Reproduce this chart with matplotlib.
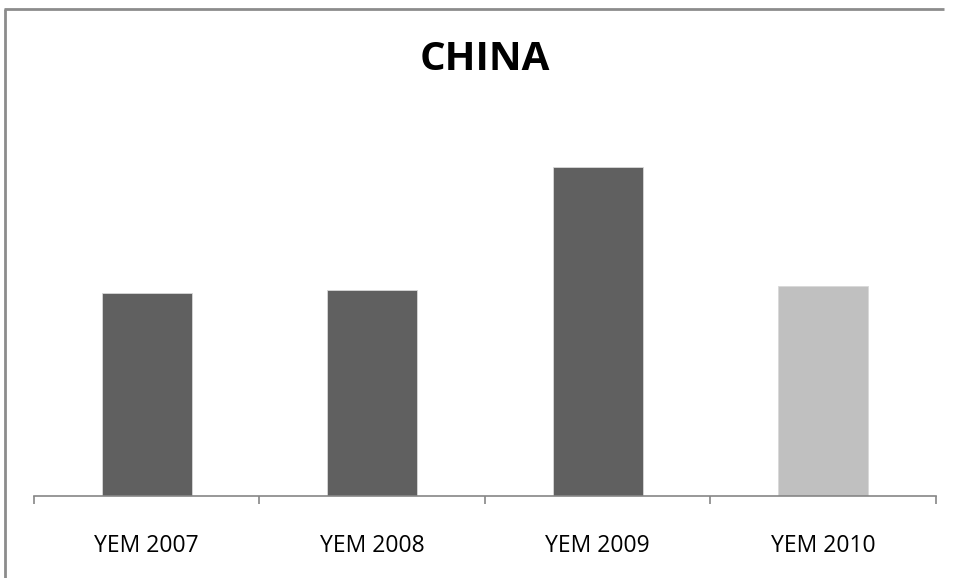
#!/usr/bin/env python3
"""Bar chart of yearly values for China"""

import matplotlib
matplotlib.use('Agg')
import matplotlib.pyplot as plt
from matplotlib.lines import Line2D
import numpy as np

YEARS = ['YEM 2007', 'YEM 2008', 'YEM 2009', 'YEM 2010']
VALUES = [202.7, 206.3, 328.7, 210.3]
COLORS = ['#606060', '#606060', '#606060', '#c0c0c0']
Y_MAX = 366

W, H = 954, 578


def main():
    plt.rcParams['font.family'] = ['Open Sans', 'DejaVu Sans']

    fig = plt.figure(figsize=(W / 100, H / 100), dpi=100)

    # outer chart border: only the top and left edges fall inside the picture
    border = dict(transform=fig.transFigure, color='#8c8c8c', linewidth=2,
                  solid_capstyle='butt')
    fig.lines.append(Line2D([4 / W, 0.99], [1 - 9 / H, 1 - 9 / H], **border))
    fig.lines.append(Line2D([5 / W, 5 / W], [0.0, 1 - 9 / H], **border))

    axis = fig.add_axes([34 / W, (H - 496) / H, (936 - 34) / W, (496 - 130) / H])

    x = np.arange(len(YEARS))
    axis.bar(x, VALUES, width=0.4, color=COLORS, edgecolor='#d8d8d8', linewidth=0.6,
             zorder=2)

    axis.set_xlim(-0.5, len(YEARS) - 0.5)
    axis.set_ylim(0, Y_MAX)

    for side in ('left', 'right', 'top'):
        axis.spines[side].set_visible(False)
    axis.spines['bottom'].set_color('#868686')
    axis.spines['bottom'].set_linewidth(1.2)
    axis.set_yticks([])

    # ticks at category boundaries, labels at category centres
    axis.set_xticks(np.arange(len(YEARS) + 1) - 0.5)
    axis.set_xticklabels([])
    axis.tick_params(axis='x', which='major', length=6, width=1.2, color='#868686',
                     direction='out')
    axis.set_xticks(x, minor=True)
    axis.set_xticklabels(YEARS, minor=True, fontsize=16.5, color='black')
    axis.tick_params(axis='x', which='minor', length=0, pad=27)

    fig.text(485 / W, 1 - 59 / H, 'CHINA', ha='center', va='center',
             fontsize=29, fontweight='bold', color='black')

    fig.savefig('out.png', dpi=100)


if __name__ == '__main__':
    main()
